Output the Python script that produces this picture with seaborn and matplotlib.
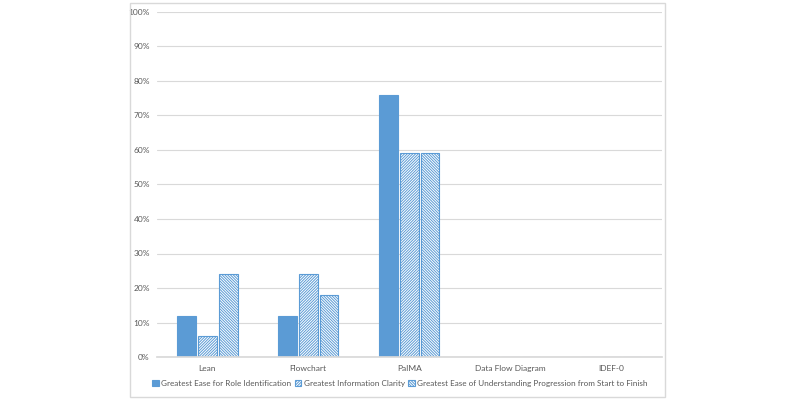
import matplotlib
matplotlib.use("Agg")
import matplotlib.pyplot as plt
import seaborn as sns
import pandas as pd
from matplotlib.patches import Patch, Rectangle

categories = ["Lean", "Flowchart", "PaIMA", "Data Flow Diagram", "IDEF-0"]
series_names = ["Greatest Ease for Role Identification",
                "Greatest Information Clarity",
                "Greatest Ease of Understanding Progression from Start to Finish"]
role_ident = [12, 12, 76, 0, 0]
info_clarity = [6, 24, 59, 0, 0]
progression = [24, 18, 59, 0, 0]
yticks = [0, 10, 20, 30, 40, 50, 60, 70, 80, 90, 100]

rows = []
for s, vals in zip(series_names, [role_ident, info_clarity, progression]):
    for c, v in zip(categories, vals):
        rows.append({"cat": c, "series": s, "value": v})
df = pd.DataFrame(rows)

sns.set_theme(style="white")
plt.rcParams["font.family"] = ["Lato", "DejaVu Sans"]
plt.rcParams["hatch.linewidth"] = 0.7

blue = "#5B9BD5"
light = "#A9C9E8"
fig = plt.figure(figsize=(8, 4), dpi=100)
ax = fig.add_axes([0.196, 0.1075, 0.631, 0.8625])
sns.barplot(data=df, x="cat", y="value", hue="series", order=categories,
            hue_order=series_names, palette=[blue, blue, blue],
            width=0.62, gap=0.1, legend=False, ax=ax, errorbar=None)

styles = [(blue, None, blue), ("white", "////////////", light), ("white", "\\" * 12, blue)]


def style_patch(p, fc, h, hc):
    p.set_facecolor(fc)
    p.set_edgecolor(blue)
    p.set_linewidth(0.8)
    if h:
        p.set_hatch(h)
        if hasattr(p, "set_hatchcolor"):
            p.set_hatchcolor(hc)


for cont, (fc, h, hc) in zip(ax.containers, styles):
    for p in cont.patches:
        style_patch(p, fc, h, hc)

ax.set_ylim(0, 100)
ax.set_xlim(-0.5, 4.5)
ax.set_yticks(yticks)
ax.set_yticklabels([f"{t}%" for t in yticks], fontsize=6, color="#595959")
ax.tick_params(axis="x", labelsize=6, colors="#595959", length=0, pad=6)
ax.tick_params(axis="y", length=0, pad=5)
ax.yaxis.grid(True, color="#D9D9D9", linewidth=0.8)
ax.set_axisbelow(True)
for sp in ["top", "right", "left"]:
    ax.spines[sp].set_visible(False)
ax.spines["bottom"].set_color("#D9D9D9")
ax.set_xlabel("")
ax.set_ylabel("")

handles = []
for fc, h, hc in styles:
    hp = Patch()
    style_patch(hp, fc, h, hc)
    handles.append(hp)
fig.legend(handles=handles, labels=series_names, loc="center", bbox_to_anchor=(0.5, 0.042),
           ncol=3, frameon=False, fontsize=5.9, handlelength=0.8, handleheight=0.8,
           handletextpad=0.3, columnspacing=0.4, labelcolor="#595959")

fig.patches.append(Rectangle((130 / 800, 3 / 400), 535 / 800, 394 / 400,
                             transform=fig.transFigure, fill=False,
                             edgecolor="#D9D9D9", linewidth=1))
fig.savefig("out.png", dpi=100)
